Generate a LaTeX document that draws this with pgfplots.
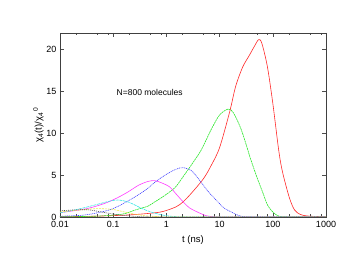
\documentclass[border=0pt]{standalone}
\usepackage{fontspec}
\setmainfont{Liberation Sans}
\usepackage{pgfplots}
\pgfplotsset{compat=1.18}
\definecolor{gred}{RGB}{255,40,40}
\definecolor{ggreen}{RGB}{40,230,40}
\definecolor{gblue}{RGB}{60,60,255}
\definecolor{gmag}{RGB}{255,60,255}
\definecolor{gcyan}{RGB}{60,230,230}
\definecolor{gyel}{RGB}{235,235,80}
\begin{document}
\begin{tikzpicture}
\path[use as bounding box] (0pt,0pt) rectangle (352pt,272pt);
\begin{axis}[
  at={(60pt,55pt)}, anchor=south west,
  scale only axis, width=266pt, height=184pt,
  xmode=log, xmin=0.01, xmax=1000, ymin=0, ymax=22,
  xtick={0.01,0.1,1,10,100,1000},
  xticklabels={0.01,0.1,1,10,100,1000},
  minor xtick={0.02,0.05,0.08,0.2,0.5,0.8,2,5,8,20,50,80,200,500,800},
  ytick={0,5,10,15,20}, yticklabels={0,5,10,15,20},
  major tick length=4pt, minor tick length=2.5pt,
  tick style={black!70, line width=0.5pt},
  axis line style={black!75, line width=0.8pt},
  ticklabel style={font=\fontsize{9}{10}\selectfont},
  xticklabel style={yshift=-1pt},
  label style={font=\fontsize{9.5}{11}\selectfont},
  xlabel={t (ns)},
  ylabel={χ\textsubscript{4}(t)/χ\textsubscript{4}\textsuperscript{\,0}},
  xlabel style={yshift=-1pt},
  ylabel style={yshift=-4pt},
  every axis plot/.style={line width=0.6pt, smooth, tension=0.5},
  clip=true,
]
\addplot[gred] coordinates {(0.01,0.03)(0.05,0.1)(0.2,0.25)(0.5,0.45)(0.85,0.65)(1.5,1.2)(2.05,1.8)(3,2.9)(5,4.6)(7,6.2)(10,8.3)(15.5,12.6)(20,15.6)(27,17.9)(36,19.3)(45,20.4)(54,21.2)(62,20.8)(79,18)(100,13.6)(129,8)(152,5.4)(205,2.3)(256,0.85)(330,0.3)(450,0.12)(700,0.06)(1000,0.02)};
\addplot[ggreen, dash pattern=on 2pt off 0.6pt] coordinates {(0.01,0.03)(0.05,0.1)(0.15,0.35)(0.26,0.84)(0.45,1.3)(0.6,1.8)(0.85,2.4)(1.44,3.5)(2.05,4.8)(3,6.3)(4.5,8)(7,10.5)(10,12.2)(14.4,12.9)(18,12.5)(25,10.6)(34,8)(37,7.2)(50,4.8)(65,2.9)(80,1.4)(100,0.6)(130,0.1)(200,0.02)(300,0)(1000,0)};
\addplot[gblue, dash pattern=on 1pt off 0.8pt] coordinates {(0.01,0.1)(0.03,0.25)(0.09,0.9)(0.2,2.0)(0.4,3.2)(0.65,4.3)(1.0,5.1)(1.5,5.7)(2.06,5.9)(3,5.5)(4.2,4.4)(6,3.1)(8.7,2.0)(12,1.1)(17.8,0.5)(25,0.1)(40,0.02)(60,0)(1000,0)};
\addplot[gmag] coordinates {(0.01,0.55)(0.014,0.64)(0.034,1.04)(0.07,1.64)(0.12,2.3)(0.19,3.0)(0.3,3.8)(0.45,4.25)(0.6,4.35)(0.8,4.1)(1.15,3.6)(1.5,2.8)(2.05,1.83)(2.7,1.1)(3.7,0.64)(5.6,0.15)(8,0.03)(12,0)(1000,0)};
\addplot[gcyan, dash pattern=on 3pt off 0.8pt] coordinates {(0.01,0.5)(0.019,0.84)(0.045,1.43)(0.08,1.85)(0.124,2.03)(0.2,1.75)(0.34,1.04)(0.49,0.64)(0.69,0.36)(1.0,0.15)(1.5,0.05)(3,0)(1000,0)};
\addplot[gyel, dash pattern=on 2pt off 1pt] coordinates {(0.01,0.6)(0.02,0.8)(0.05,1.0)(0.1,0.9)(0.15,0.65)(0.25,0.35)(0.4,0.15)(0.7,0.04)(1,0)(1000,0)};
\addplot[black!70, dash pattern=on 1pt off 1pt] coordinates {(0.01,0.75)(0.02,0.85)(0.035,0.85)(0.06,0.6)(0.1,0.35)(0.2,0.12)(0.4,0.03)(0.8,0)(1000,0)};
\node[anchor=west, font=\fontsize{8.5}{10}\selectfont] at (axis cs:0.1,14.9) {N=800 molecules};
\end{axis}
\end{tikzpicture}
\end{document}
